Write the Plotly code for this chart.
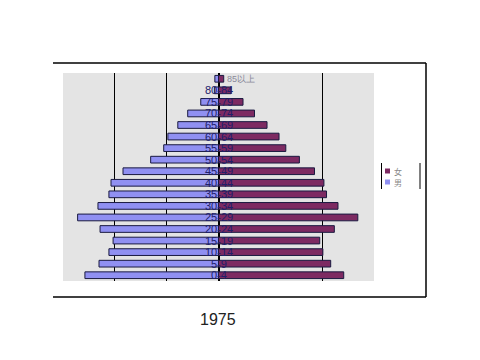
import plotly.graph_objects as go

age_groups = ["0-4", "5-9", "10-14", "15-19", "20-24", "25-29", "30-34", "35-39",
              "40-44", "45-49", "50-54", "55-59", "60-64", "65-69", "70-74",
              "75-79", "80-84", "85以上"]
male = [2.56, 2.29, 2.10, 2.02, 2.27, 2.70, 2.31, 2.10, 2.06, 1.83, 1.30, 1.05,
        0.97, 0.78, 0.59, 0.34, 0.08, 0.07]
female = [2.40, 2.15, 2.00, 1.94, 2.22, 2.67, 2.29, 2.07, 2.02, 1.84, 1.55, 1.29,
          1.16, 0.93, 0.69, 0.47, 0.24, 0.10]
grid_vals = [-2, -1, 0, 2]
title_text = "1975"
legend_female = "女"
legend_male = "男"

male_color = "#9090f2"
female_color = "#7d2a62"
outline = "#1a1a40"

fig = go.Figure()
fig.add_trace(go.Bar(y=age_groups, x=[-v for v in male], orientation="h",
                     marker=dict(color=male_color, line=dict(color=outline, width=1)),
                     width=0.58, name=legend_male, showlegend=False))
fig.add_trace(go.Bar(y=age_groups, x=female, orientation="h",
                     marker=dict(color=female_color, line=dict(color=outline, width=1)),
                     width=0.58, name=legend_female, showlegend=False))

# category labels centred on the axis
for i, lab in enumerate(age_groups):
    if lab == age_groups[-1]:
        fig.add_annotation(x=0.12, y=lab, text=lab, showarrow=False, xanchor="left",
                           font=dict(family="Liberation Sans, Arial", size=9, color="#8a8a9a"))
    else:
        fig.add_annotation(x=0, y=lab, text=lab, showarrow=False, xanchor="center",
                           font=dict(family="Liberation Sans, Arial", size=11, color="#20206a"))

W, H = 480, 360
L, R, T, B = 63, 374, 73, 281


def px(x):
    return (x - L) / (R - L)


def py(y):
    return (B - y) / (B - T)


shapes = []
# outer frame (top, right, bottom)
shapes.append(dict(type="line", xref="paper", yref="paper", x0=px(53), x1=px(426),
                   y0=py(63), y1=py(63), line=dict(color="black", width=1.5)))
shapes.append(dict(type="line", xref="paper", yref="paper", x0=px(53), x1=px(426),
                   y0=py(297), y1=py(297), line=dict(color="black", width=1.5)))
shapes.append(dict(type="line", xref="paper", yref="paper", x0=px(426), x1=px(426),
                   y0=py(63), y1=py(297), line=dict(color="black", width=1.5)))
# legend box sides
shapes.append(dict(type="line", xref="paper", yref="paper", x0=px(381.5), x1=px(381.5),
                   y0=py(163), y1=py(189), line=dict(color="black", width=1)))
shapes.append(dict(type="line", xref="paper", yref="paper", x0=px(420), x1=px(420),
                   y0=py(163), y1=py(189), line=dict(color="black", width=1)))
# legend swatches
shapes.append(dict(type="rect", xref="paper", yref="paper", x0=px(385), x1=px(390),
                   y0=py(168.5), y1=py(173.5), fillcolor=female_color, line=dict(width=0)))
shapes.append(dict(type="rect", xref="paper", yref="paper", x0=px(385), x1=px(390),
                   y0=py(179.5), y1=py(184.5), fillcolor=male_color, line=dict(width=0)))

fig.add_annotation(xref="paper", yref="paper", x=px(393), y=py(171), text=legend_female,
                   showarrow=False, xanchor="left", yanchor="middle", borderpad=0,
                   font=dict(family="Noto Sans CJK SC", size=8, color="#8a8a8a"))
fig.add_annotation(xref="paper", yref="paper", x=px(393), y=py(182.5), text=legend_male,
                   showarrow=False, xanchor="left", yanchor="middle", borderpad=0,
                   font=dict(family="Noto Sans CJK SC", size=8, color="#8a8a8a"))
fig.add_annotation(xref="paper", yref="paper", x=px(217.5), y=py(319), text=title_text,
                   showarrow=False, xanchor="center", yanchor="middle",
                   font=dict(family="Liberation Sans, Arial", size=16, color="#222222"))

fig.update_layout(
    width=W, height=H,
    margin=dict(l=L, r=W - R, t=T, b=H - B),
    paper_bgcolor="white", plot_bgcolor="#e4e4e4",
    barmode="overlay", shapes=shapes, showlegend=False,
    xaxis=dict(range=[-2.98, 2.98], tickvals=grid_vals, showticklabels=False,
               showgrid=True, gridcolor="black", gridwidth=1,
               zeroline=True, zerolinecolor="black", zerolinewidth=1.5,
               showline=False, fixedrange=True),
    yaxis=dict(type="category", categoryorder="array", categoryarray=age_groups,
               range=[-0.5, 17.5], showticklabels=False, showgrid=False,
               zeroline=False, showline=False),
)

fig.write_html("out.html", config={"displayModeBar": False},
               post_script="document.body.style.margin='0';document.body.style.overflow='hidden';")
